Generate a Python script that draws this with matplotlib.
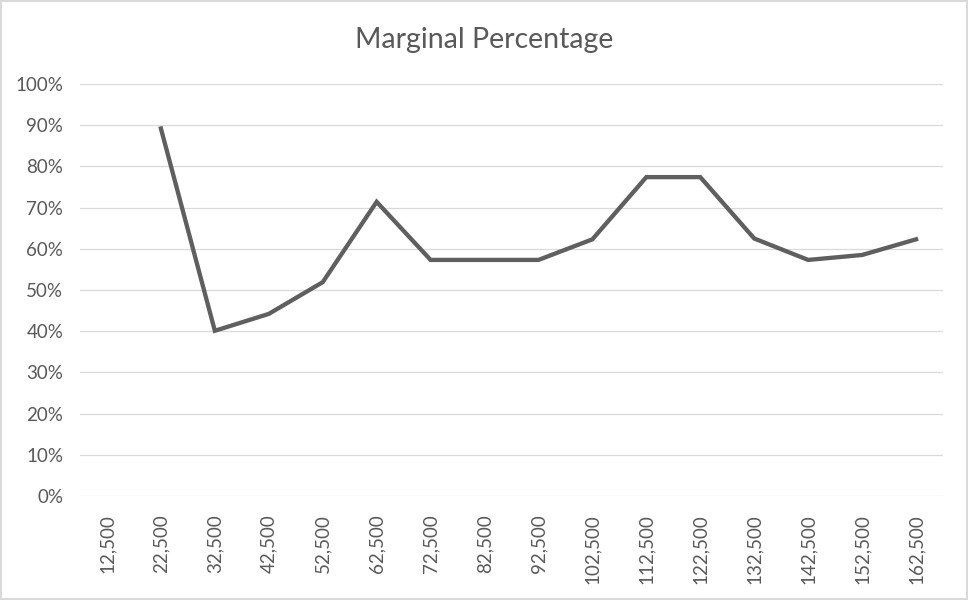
import numpy as np
import matplotlib.pyplot as plt
from matplotlib.ticker import PercentFormatter

incomes = [12500, 22500, 32500, 42500, 52500, 62500, 72500, 82500,
           92500, 102500, 112500, 122500, 132500, 142500, 152500, 162500]
marginal = [np.nan, 0.892, 0.401, 0.442, 0.519, 0.714, 0.573, 0.573,
            0.573, 0.623, 0.774, 0.774, 0.625, 0.573, 0.585, 0.623]
labels = [f"{v:,}" for v in incomes]

plt.rcParams['font.family'] = ['Lato', 'DejaVu Sans']

fig = plt.figure(figsize=(9.68, 6), dpi=100)
fig.patch.set_edgecolor('#d9d9d9')
fig.patch.set_linewidth(1.5)
ax = fig.add_axes([80 / 968, 104 / 600, 863 / 968, 412 / 600])

x = np.arange(len(incomes))
ax.plot(x, marginal, color='#5f5f5f', linewidth=3.1, solid_joinstyle='miter')

ax.set_xlim(-0.5, len(incomes) - 0.5)
ax.set_ylim(0, 1)
ax.set_yticks(np.arange(0, 1.01, 0.1))
ax.yaxis.set_major_formatter(PercentFormatter(1.0, decimals=0))
ax.set_xticks(x)
ax.set_xticklabels(labels, rotation=90)
ax.tick_params(axis='both', length=0, labelsize=13.5, labelcolor='#595959')
ax.tick_params(axis='x', pad=13)
ax.tick_params(axis='y', pad=12)

ax.grid(axis='y', color='#d9d9d9', linewidth=0.9)
ax.set_axisbelow(True)
for s in ax.spines.values():
    s.set_visible(False)

fig.suptitle("Marginal Percentage", y=1 - 40 / 600, va='center',
             fontsize=20.5, color='#595959')

fig.savefig('out.png', dpi=100)
